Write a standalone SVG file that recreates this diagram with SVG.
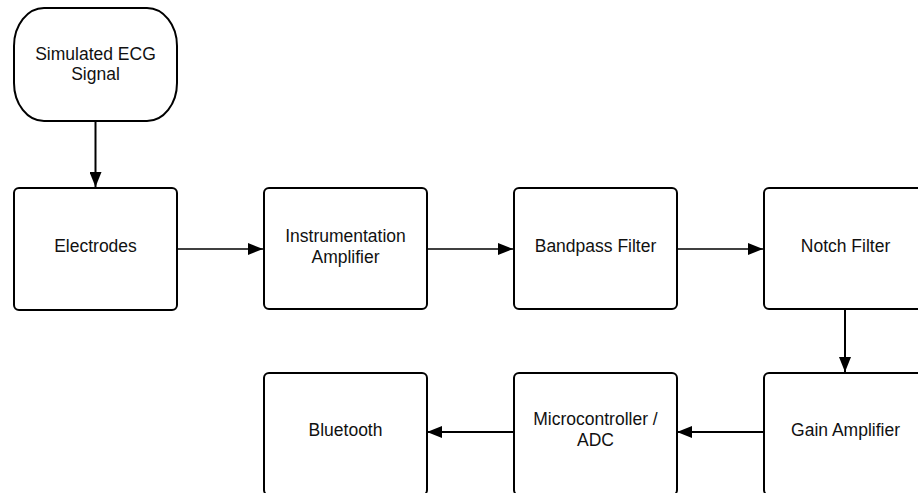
<svg xmlns="http://www.w3.org/2000/svg" width="918" height="493" viewBox="0 0 918 493">
<style>
.box{fill:#fff;stroke:#000;stroke-width:2}
.t{font-family:"Liberation Sans",Arial,sans-serif;font-size:17.5px;fill:#111;text-anchor:middle}
.thin{stroke:#000;stroke-width:1.3;fill:none}
.thick{stroke:#000;stroke-width:2;fill:none}
</style>
<defs>
<marker id="ah" markerWidth="15" markerHeight="12" refX="15" refY="6" orient="auto" markerUnits="userSpaceOnUse">
<path d="M0,0 L15,6 L0,12 Z" fill="#000"/>
</marker>
</defs>
<rect width="918" height="493" fill="#fff"/>
<g id="connectors">
<line class="thick" x1="95.5" y1="121" x2="95.5" y2="187" marker-end="url(#ah)"/>
<line class="thin" x1="177" y1="249" x2="263" y2="249" marker-end="url(#ah)"/>
<line class="thin" x1="427" y1="249" x2="513" y2="249" marker-end="url(#ah)"/>
<line class="thin" x1="677" y1="249" x2="763" y2="249" marker-end="url(#ah)"/>
<line class="thick" x1="845" y1="309" x2="845" y2="372" marker-end="url(#ah)"/>
<line class="thick" x1="763" y1="432" x2="677" y2="432" marker-end="url(#ah)"/>
<line class="thick" x1="513" y1="432" x2="427" y2="432" marker-end="url(#ah)"/>
</g>
<g id="n-signal">
<rect class="box" x="14" y="8" width="163" height="113" rx="30" ry="38"/>
<text class="t" x="95.5" y="60">Simulated ECG</text>
<text class="t" x="95.5" y="80">Signal</text>
</g>
<g id="n-electrodes">
<rect class="box" x="14" y="188" width="163" height="122" rx="5"/>
<text class="t" x="95.5" y="252">Electrodes</text>
</g>
<g id="n-inamp">
<rect class="box" x="264" y="188" width="163" height="121" rx="5"/>
<text class="t" x="345.5" y="242">Instrumentation</text>
<text class="t" x="345.5" y="263">Amplifier</text>
</g>
<g id="n-bandpass">
<rect class="box" x="514" y="188" width="163" height="121" rx="5"/>
<text class="t" x="595.5" y="252">Bandpass Filter</text>
</g>
<g id="n-notch">
<rect class="box" x="764" y="188" width="163" height="121" rx="5"/>
<text class="t" x="845.5" y="252">Notch Filter</text>
</g>
<g id="n-gain">
<rect class="box" x="764" y="373" width="163" height="122" rx="5"/>
<text class="t" x="845.5" y="436">Gain Amplifier</text>
</g>
<g id="n-mcu">
<rect class="box" x="514" y="373" width="163" height="122" rx="5"/>
<text class="t" x="595.5" y="425">Microcontroller /</text>
<text class="t" x="595.5" y="446">ADC</text>
</g>
<g id="n-bluetooth">
<rect class="box" x="264" y="373" width="163" height="122" rx="5"/>
<text class="t" x="345.5" y="436">Bluetooth</text>
</g>
</svg>
